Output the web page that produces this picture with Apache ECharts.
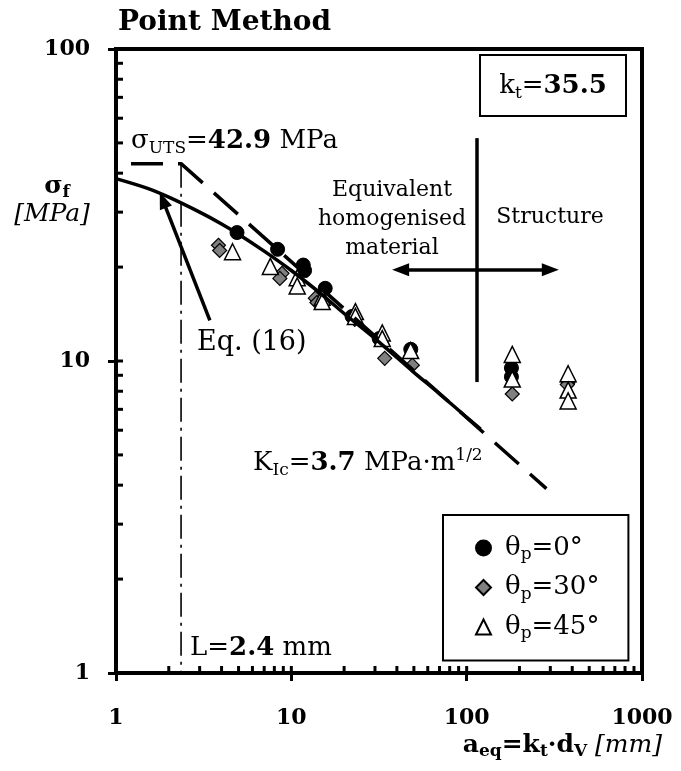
<!DOCTYPE html>
<html>
<head>
<meta charset="utf-8">
<title>Point Method</title>
<script src="https://cdn.jsdelivr.net/npm/echarts@6/dist/echarts.min.js"></script>
<style>html,body{margin:0;padding:0;background:#fff;}</style>
</head>
<body>
<div id="main" style="width:681px;height:771px;"></div>
<script>
var F = 'DejaVu Serif';

// measured points, [a_eq (mm), sigma_f (MPa)]
var theta0 = [[4.9,25.8],[8.35,22.8],[11.7,20.3],[11.9,19.5],[15.6,17.1],[22.2,13.9],[31.7,11.8],[48,10.9],[180,9.5],[180,8.9],[379,8.6]];
var theta30 = [[3.84,23.5],[3.9,22.6],[8.85,19.1],[8.6,18.4],[13.7,15.9],[14.0,15.4],[23,13.6],[34.1,10.2],[49,9.7],[182,7.84],[375,8.4]];
var theta45 = [[4.62,22.4],[7.59,20.1],[10.8,18.5],[10.8,17.4],[15,16],[15,15.5],[23.2,14.4],[23.2,13.9],[33,12.3],[33,11.8],[47.9,10.8],[182,10.5],[182,8.75],[379,9.1],[379,8.07],[379,7.45]];

// Eq. (16) curve (solid)
var eqA = [1, 1.5, 2, 3, 4, 5, 7, 10, 15, 20, 30, 50, 70, 100, 120];
var eqS = [38.4, 35.8, 33.5, 30.0, 27.5, 25.5, 22.5, 19.5, 16.3, 14.2, 11.8, 9.2, 7.85, 6.6, 6.05];

// sigma_UTS plateau + LEFM line (dashed)
var lefmA = [1, 2.35, 285];
var lefmS = [42.9, 42.9, 3.9];

// L line (dash-dot)
var lLineA = [2.35, 2.35];
var lLineS = [42.9, 1];

var xTicks = [2,3,4,5,6,7,8,9,10,20,30,40,50,60,70,80,90,100,200,300,400,500,600,700,800,900];
var yTicks = [2,3,4,5,6,7,8,9,10,20,30,40,50,60,70,80,90];
var legendNames = ['0°', '30°', '45°'];

function pairs(xs, ys) {
  return xs.map(function (x, i) { return [x, ys[i]]; });
}

function innerTick(dir) {
  return function (params, api) {
    var p = api.coord([api.value(0), api.value(1)]);
    var q = dir === 'x' ? [p[0], p[1] - 7] : [p[0] + 7, p[1]];
    return {
      type: 'line',
      shape: {x1: p[0], y1: p[1], x2: q[0], y2: q[1]},
      style: {stroke: '#000', lineWidth: 3}
    };
  };
}

var R = {
  n: {fontFamily: F, fontSize: 26, fill: '#000', lineHeight: 32},
  b: {fontFamily: F, fontSize: 26, fontWeight: 'bold', fill: '#000', lineHeight: 32},
  s: {fontFamily: F, fontSize: 17, fill: '#000', lineHeight: 17, verticalAlign: 'bottom'},
  sup: {fontFamily: F, fontSize: 17, fill: '#000', lineHeight: 17, verticalAlign: 'top'},
  bb: {fontFamily: F, fontSize: 25, fontWeight: 'bold', fill: '#000', lineHeight: 30},
  bs: {fontFamily: F, fontSize: 17, fontWeight: 'bold', fill: '#000', lineHeight: 17, verticalAlign: 'bottom'},
  i: {fontFamily: F, fontSize: 25, fontStyle: 'italic', fill: '#000', lineHeight: 30}
};

function txt(x, y, text, align, extra) {
  var st = {text: text, rich: R, align: align, verticalAlign: 'middle', fill: '#000', fontFamily: F, fontSize: 26};
  for (var k in extra) st[k] = extra[k];
  return {type: 'text', x: x, y: y, z: 100, style: st};
}

var chart = echarts.init(document.getElementById('main'));

var option = {
  animation: false,
  backgroundColor: '#fff',
  title: {
    text: 'Point Method',
    left: 113, top: 4,
    textStyle: {fontFamily: F, fontSize: 28, fontWeight: 'bold', color: '#000'}
  },
  grid: {left: 116, right: 39, top: 49, bottom: 98, show: true, borderColor: '#000', borderWidth: 4},
  legend: {
    data: legendNames,
    orient: 'vertical',
    left: 443, top: 515,
    padding: [20, 29, 18, 32],
    itemGap: 11,
    itemWidth: 15, itemHeight: 15,
    borderColor: '#000', borderWidth: 2,
    backgroundColor: '#fff',
    formatter: function (name) { return '{f|θ}{p|p}{t|=' + name + '}'; },
    textStyle: {
      fontFamily: F, fontSize: 26, color: '#000',
      rich: {
        f: {fontFamily: F, fontSize: 26, color: '#000', lineHeight: 31, padding: [0, 0, 0, 9]},
        t: {fontFamily: F, fontSize: 26, color: '#000', lineHeight: 31},
        p: {fontFamily: F, fontSize: 17, color: '#000', lineHeight: 17, verticalAlign: 'bottom'}
      }
    }
  },
  xAxis: {
    type: 'log', logBase: 10, min: 1, max: 1000,
    axisLine: {onZero: false, lineStyle: {color: '#000', width: 4}},
    axisTick: {length: 8, lineStyle: {color: '#000', width: 3}},
    axisLabel: {
      fontFamily: F, fontWeight: 'bold', fontSize: 22, color: '#000', margin: 34,
      showMinLabel: true, showMaxLabel: true,
      formatter: function (v) { return String(v); }
    },
    splitLine: {show: false}
  },
  yAxis: {
    type: 'log', logBase: 10, min: 1, max: 100,
    axisLine: {onZero: false, lineStyle: {color: '#000', width: 4}},
    axisTick: {length: 8, lineStyle: {color: '#000', width: 3}},
    axisLabel: {
      fontFamily: F, fontWeight: 'bold', fontSize: 22, color: '#000', margin: 26,
      formatter: function (v) { return String(v); }
    },
    splitLine: {show: false}
  },
  graphic: [
    {type: 'rect', shape: {x: 480, y: 55, width: 146, height: 61}, style: {fill: '#fff', stroke: '#000', lineWidth: 2}, z: 99},
    txt(553, 86, '{n|k}{s|t}{n|=}{b|35.5}', 'center'),
    txt(131, 141, '{n|σ}{s|UTS}{n|=}{b|42.9}{n| MPa}', 'left'),
    txt(253, 463, '{n|K}{s|Ic}{n|=}{b|3.7}{n| MPa·m}{sup|1/2}', 'left'),
    txt(190, 648, '{n|L=}{b|2.4}{n| mm}', 'left'),
    txt(197, 343, 'Eq. (16)', 'left', {fontSize: 27, rich: null}),
    txt(392, 219, 'Equivalent\nhomogenised\nmaterial', 'center', {fontSize: 22, lineHeight: 29, rich: null}),
    txt(550, 217, 'Structure', 'center', {fontSize: 22, rich: null}),
    txt(57, 186, '{bb|σ}{bs|f}', 'center'),
    txt(52, 214, '{i|[MPa]}', 'center'),
    txt(662, 745, '{bb|a}{bs|eq}{bb|=k}{bs|t}{bb|·d}{bs|V}{i| [mm]}', 'right')
  ],
  series: [
    {
      type: 'custom', renderItem: innerTick('x'), silent: true, z: 5,
      data: xTicks.map(function (v) { return [v, 1]; })
    },
    {
      type: 'custom', renderItem: innerTick('y'), silent: true, z: 5,
      data: yTicks.map(function (v) { return [1, v]; })
    },
    {
      type: 'line', data: pairs(lLineA, lLineS), showSymbol: false, silent: true,
      lineStyle: {color: '#000', width: 1.6, type: [24, 6, 3, 6]}
    },
    {
      type: 'line', data: pairs(lefmA, lefmS), showSymbol: false, silent: true,
      lineStyle: {color: '#000', width: 3.5, type: [32, 15], dashOffset: 32}
    },
    {
      type: 'line', data: pairs(eqA, eqS), showSymbol: false, silent: true, smooth: 0.3,
      lineStyle: {color: '#000', width: 3.5},
      markLine: {
        silent: true, animation: false,
        symbolSize: [13, 17],
        label: {show: false},
        lineStyle: {color: '#000', width: 3.5, type: 'solid'},
        data: [
          [{coord: [3.43, 13.5], symbol: 'none'}, {coord: [1.85, 32.8], symbol: 'triangle'}],
          [{coord: [42, 19.6], symbol: 'triangle'}, {coord: [300, 19.6], symbol: 'triangle'}],
          [{coord: [113.6, 51.8], symbol: 'none'}, {coord: [113.6, 8.56], symbol: 'none'}]
        ]
      }
    },
    {
      name: legendNames[0], type: 'scatter', data: theta0, symbol: 'circle', symbolSize: 14,
      itemStyle: {color: '#000', borderColor: '#000', borderWidth: 1, opacity: 1}
    },
    {
      name: legendNames[1], type: 'scatter', data: theta30, symbol: 'diamond', symbolSize: 14,
      itemStyle: {color: '#808080', borderColor: '#000', borderWidth: 1.2, opacity: 1}
    },
    {
      name: legendNames[2], type: 'scatter', data: theta45, symbol: 'triangle', symbolSize: [16, 16],
      itemStyle: {color: '#fff', borderColor: '#000', borderWidth: 1.5, opacity: 1}
    }
  ]
};

chart.setOption(option);
</script>
</body>
</html>
